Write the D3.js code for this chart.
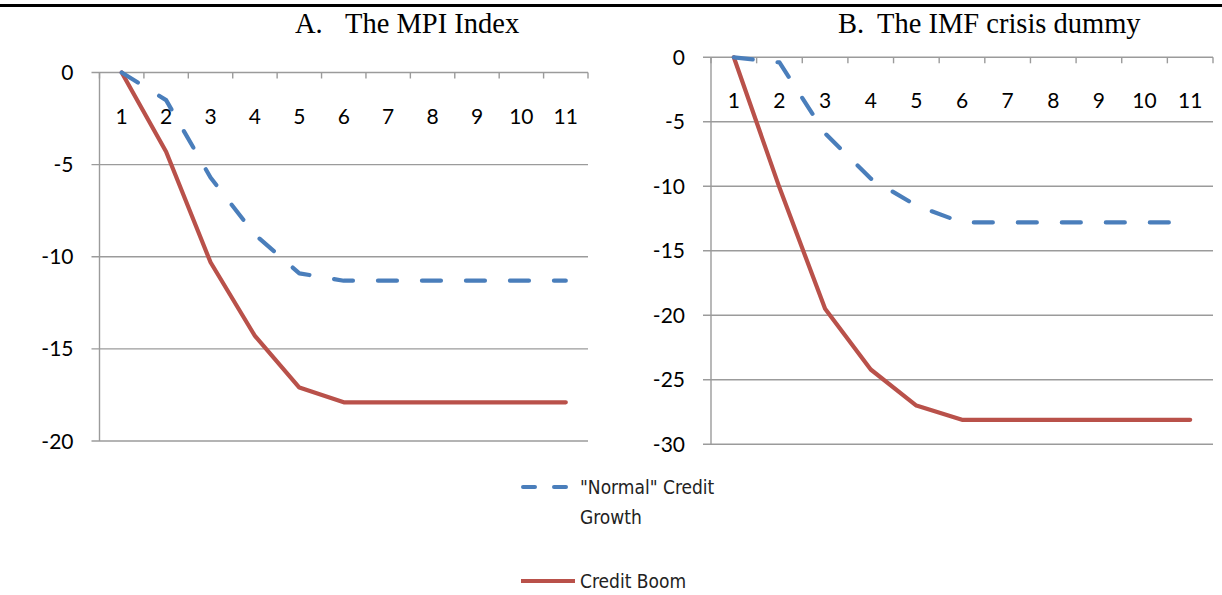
<!DOCTYPE html>
<html><head><meta charset="utf-8">
<script src="https://cdn.jsdelivr.net/npm/d3@7"></script>
<style>body{margin:0;background:#fff}svg{display:block}</style>
</head><body><svg id="c" width="1222" height="595"></svg>
<script>
const categories = ["1","2","3","4","5","6","7","8","9","10","11"];
const mpiNormal = [0,-1.5,-5.7,-8.8,-10.9,-11.3,-11.3,-11.3,-11.3,-11.3,-11.3];
const mpiBoom   = [0,-4.3,-10.3,-14.3,-17.1,-17.9,-17.9,-17.9,-17.9,-17.9,-17.9];
const imfNormal = [0,-0.4,-5.9,-9.4,-11.5,-12.8,-12.8,-12.8,-12.8,-12.8,-12.8];
const imfBoom   = [0,-10.1,-19.5,-24.2,-27.0,-28.1,-28.1,-28.1,-28.1,-28.1,-28.1];
const mpiTicks = [0,-5,-10,-15,-20];
const imfTicks = [0,-5,-10,-15,-20,-25,-30];
const seriesNames = ["\"Normal\" Credit Growth","Credit Boom"];

const svg = d3.select("#c");
const BLUE="#4A7EBB", RED="#B9514A", GRID="#9b9b9b";
const axisFont="Lato, 'Open Sans', sans-serif";

svg.append("line").attr("x1",0).attr("x2",1222).attr("y1",5.5).attr("y2",5.5)
  .attr("stroke","#000").attr("stroke-width",3);

function panel(cfg){
  const x = d3.scaleBand().domain(categories).range([cfg.x0,cfg.x1]);
  const y = d3.scaleLinear().domain([0,cfg.ymin]).range([cfg.y0,cfg.y1]);
  const g = svg.append("g");
  g.selectAll("line.grid").data(cfg.ticks).join("line")
    .attr("x1",cfg.x0-8).attr("x2",cfg.x1).attr("y1",d=>y(d)).attr("y2",d=>y(d))
    .attr("stroke",GRID).attr("stroke-width",1.4);
  g.append("line").attr("x1",cfg.x0).attr("x2",cfg.x0).attr("y1",y(0)).attr("y2",y(cfg.ymin))
    .attr("stroke",GRID).attr("stroke-width",1.4);
  g.selectAll("text.yl").data(cfg.ticks).join("text")
    .attr("x",cfg.x0-cfg.labGap).attr("y",d=>y(d)).attr("dy","0.36em")
    .attr("text-anchor","end").attr("font-family",axisFont).attr("font-size",21)
    .attr("fill","#000").text(d=>d);
  const bounds = categories.map(c=>x(c)+x.bandwidth()).concat([cfg.x0]);
  g.selectAll("line.xt").data(bounds).join("line")
    .attr("x1",d=>d).attr("x2",d=>d).attr("y1",y(0)).attr("y2",y(0)+6)
    .attr("stroke",GRID).attr("stroke-width",1.4);
  g.selectAll("text.xl").data(categories).join("text")
    .attr("x",d=>x(d)+x.bandwidth()/2).attr("y",y(0)+cfg.labOff).attr("dy","0.36em")
    .attr("text-anchor","middle").attr("font-family",axisFont).attr("font-size",21)
    .attr("fill","#000").text(d=>d);
  const line = d3.line().x((d,i)=>x(categories[i])+x.bandwidth()/2).y(d=>y(d));
  g.append("path").attr("d",line(cfg.boom)).attr("fill","none").attr("stroke",RED)
    .attr("stroke-width",4.2).attr("stroke-linejoin","round").attr("stroke-linecap","round");
  g.append("path").attr("d",line(cfg.normal)).attr("fill","none").attr("stroke",BLUE)
    .attr("stroke-width",4.2).attr("stroke-linejoin","round").attr("stroke-linecap","round")
    .attr("stroke-dasharray","19,25");
  const t = svg.append("text").attr("y",33).attr("font-family","'Liberation Serif', 'Times New Roman', serif")
    .attr("font-size",28.5).attr("fill","#000");
  t.append("tspan").attr("x",cfg.tx).text(cfg.t1);
  t.append("tspan").attr("x",cfg.tx2).text(cfg.t2);
}

panel({x0:99.5,x1:588,y0:72.5,y1:441,ymin:-20,ticks:mpiTicks,normal:mpiNormal,boom:mpiBoom,
  labOff:43.5,labGap:26,tx:295,tx2:345,t1:"A.",t2:"The MPI Index"});
panel({x0:711,x1:1213,y0:57.3,y1:444.3,ymin:-30,ticks:imfTicks,normal:imfNormal,boom:imfBoom,
  labOff:43,labGap:26,tx:838,tx2:877,t1:"B.",t2:"The IMF crisis dummy"});

const lg = svg.append("g");
const legFont="'Liberation Sans Narrow', 'DejaVu Sans Condensed', sans-serif";
lg.append("line").attr("x1",523).attr("x2",573).attr("y1",487).attr("y2",487)
  .attr("stroke",BLUE).attr("stroke-width",4).attr("stroke-linecap","round").attr("stroke-dasharray","12,19");
lg.append("line").attr("x1",521).attr("x2",575).attr("y1",581).attr("y2",581)
  .attr("stroke",RED).attr("stroke-width",4);
const lt = lg.append("text").attr("font-family",legFont).attr("font-size",19).attr("fill","#222");
lt.append("tspan").attr("x",580).attr("y",494).text("\"Normal\" Credit");
lt.append("tspan").attr("x",580).attr("y",524).text("Growth");
lg.append("text").attr("font-family",legFont).attr("font-size",19).attr("fill","#222")
  .attr("x",580).attr("y",588).text(seriesNames[1]);
</script></body></html>
